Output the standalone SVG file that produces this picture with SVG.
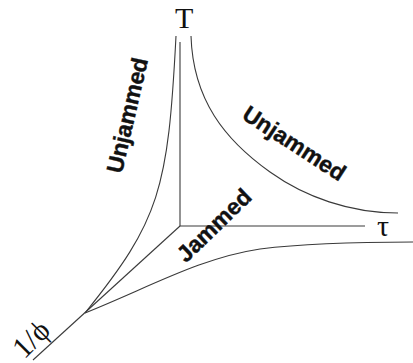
<svg xmlns="http://www.w3.org/2000/svg" width="413" height="363" viewBox="0 0 413 363">
<style>
.ln{fill:none;stroke:#3a3a3a;stroke-width:1.1}
.ax{font-family:"Liberation Serif","Times New Roman",serif;font-size:30px;fill:#111}
.lb{font-family:"Liberation Sans",Arial,sans-serif;font-weight:bold;font-size:23px;fill:#111;text-anchor:middle;stroke:#111;stroke-width:0.4}
</style>
<rect width="413" height="363" fill="#fff"/>
<g id="connectors">
<path class="ln" d="M180,226 L180,42"/>
<path class="ln" d="M180,226 L365,226"/>
<path class="ln" d="M180,226 L33,360"/>
<path class="ln" d="M176,36 C168,190 160,220 85,313"/>
<path class="ln" d="M191,36 C193,100 225,140 270,172 C305,197 350,213 398,213"/>
<path class="ln" d="M85,313 C150,287 200,258 260,249 C300,244 350,242 413,242"/>
</g>
<g id="axis-T"><text class="ax" x="175" y="28">T</text></g>
<g id="axis-tau"><text class="ax" x="377" y="236">τ</text></g>
<g id="axis-phi"><text class="ax" font-size="27" text-anchor="middle" transform="translate(38,346) rotate(-45)">1/ϕ</text></g>
<g id="region-unjammed-left"><text class="lb" transform="translate(135,117) rotate(-77)">Unjammed</text></g>
<g id="region-unjammed-right"><text class="lb" transform="translate(290,150) rotate(33)">Unjammed</text></g>
<g id="region-jammed"><text class="lb" transform="translate(219.5,231) rotate(-44)">Jammed</text></g>
</svg>
